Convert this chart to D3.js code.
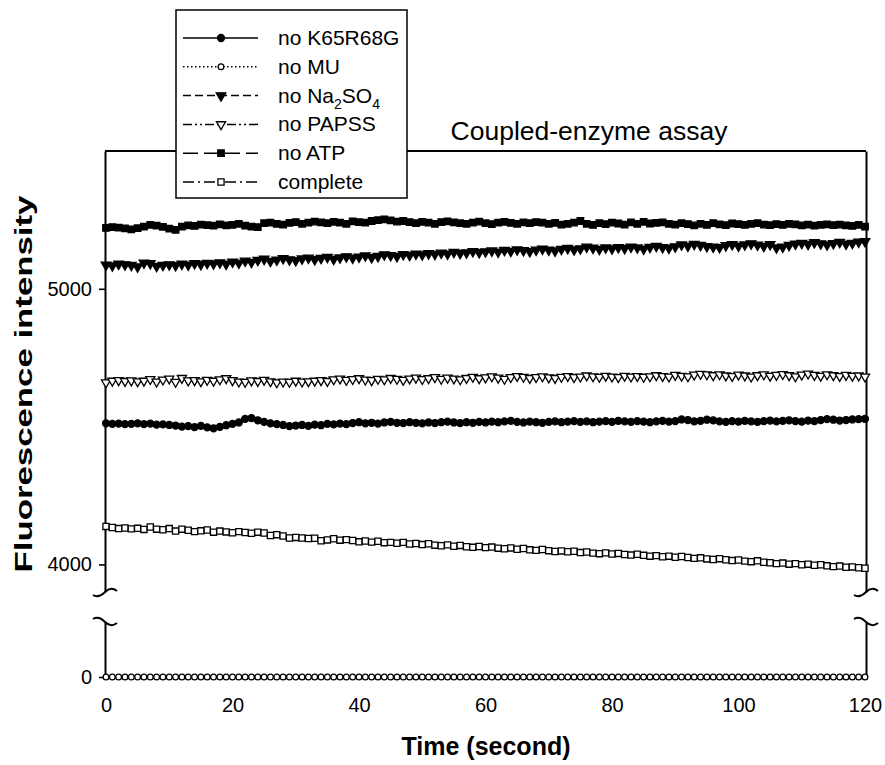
<!DOCTYPE html>
<html>
<head>
<meta charset="utf-8">
<script src="https://cdn.jsdelivr.net/npm/d3@7"></script>
<style>
	body { margin: 0; background: #fff; }
	svg { display: block; }
	text { font-family: "Liberation Sans", Arial, sans-serif; fill: #000; }
</style>
</head>
<body>
<svg id="chart" width="885" height="765"></svg>
<script>

// Data, one reading per second

var seconds = d3.range(0, 121);

var noK65R68G = [
	4512, 4510, 4511, 4509, 4510, 4512, 4509, 4511, 4507, 4508,
	4506, 4504, 4500, 4502, 4498, 4503, 4497, 4494, 4499, 4505,
	4510, 4515, 4528, 4531, 4523, 4517, 4512, 4509, 4506, 4502,
	4504, 4506, 4503, 4507, 4505, 4510, 4508, 4511, 4509, 4513,
	4516, 4512, 4514, 4511, 4515, 4517, 4514, 4513, 4516, 4514,
	4512, 4515, 4513, 4516, 4518, 4515, 4513, 4516, 4514, 4517,
	4515, 4518, 4516, 4519, 4521, 4517, 4515, 4518, 4516, 4514,
	4517, 4519, 4516, 4518, 4520, 4517, 4519, 4516, 4518, 4520,
	4517, 4521, 4519, 4517, 4520, 4518, 4516, 4519, 4521, 4518,
	4520, 4526, 4524, 4519, 4521, 4525, 4523, 4519, 4517, 4520,
	4518, 4521, 4519, 4517, 4520, 4522, 4519, 4521, 4523, 4520,
	4518, 4522, 4520, 4524, 4527, 4525, 4522, 4524, 4526, 4527,
	4528
];

var noMU = [
	0, 0, 0, 0, 0, 0, 0, 0, 0, 0,
	0, 0, 0, 0, 0, 0, 0, 0, 0, 0,
	0, 0, 0, 0, 0, 0, 0, 0, 0, 0,
	0, 0, 0, 0, 0, 0, 0, 0, 0, 0,
	0, 0, 0, 0, 0, 0, 0, 0, 0, 0,
	0, 0, 0, 0, 0, 0, 0, 0, 0, 0,
	0, 0, 0, 0, 0, 0, 0, 0, 0, 0,
	0, 0, 0, 0, 0, 0, 0, 0, 0, 0,
	0, 0, 0, 0, 0, 0, 0, 0, 0, 0,
	0, 0, 0, 0, 0, 0, 0, 0, 0, 0,
	0, 0, 0, 0, 0, 0, 0, 0, 0, 0,
	0, 0, 0, 0, 0, 0, 0, 0, 0, 0,
	0
];

var noNa2SO4 = [
	5087, 5084, 5090, 5088, 5086, 5080, 5094, 5092, 5082, 5086,
	5088, 5085, 5090, 5087, 5092, 5089, 5093, 5091, 5095, 5090,
	5098, 5094, 5101, 5097, 5104, 5108, 5100, 5105, 5110, 5106,
	5103, 5109, 5112, 5107, 5111, 5115, 5108, 5113, 5117, 5112,
	5116, 5120, 5114, 5118, 5124, 5121, 5118, 5125, 5122, 5127,
	5124, 5128, 5126, 5130, 5127, 5133, 5129, 5131, 5136, 5132,
	5135, 5138, 5134, 5140, 5137, 5142, 5139, 5136, 5141, 5145,
	5141, 5138, 5144, 5147, 5142, 5146, 5152, 5148, 5144, 5149,
	5146, 5150, 5147, 5152, 5149, 5145, 5151, 5155, 5150, 5148,
	5153, 5160, 5156, 5162, 5158, 5154, 5152, 5150, 5157, 5161,
	5156, 5160, 5164, 5159, 5155, 5161, 5149, 5152, 5158, 5163,
	5166, 5162, 5168, 5164, 5160, 5165, 5169, 5163, 5166, 5170,
	5172
];

var noPAPSS = [
	4660, 4666, 4668, 4665, 4667, 4664, 4666, 4672, 4663, 4670,
	4674, 4662, 4676, 4667, 4668, 4664, 4669, 4666, 4671, 4675,
	4668, 4663, 4662, 4667, 4665, 4669, 4664, 4660, 4663, 4662,
	4666, 4663, 4664, 4666, 4668, 4665, 4671, 4674, 4669, 4672,
	4675, 4670, 4668, 4673, 4671, 4676, 4673, 4669, 4674, 4677,
	4672, 4675, 4679, 4673, 4677, 4674, 4671, 4676, 4680, 4675,
	4678, 4682, 4677, 4673, 4679, 4683, 4680, 4676, 4679, 4682,
	4678, 4676, 4680, 4683, 4679, 4681, 4685, 4682, 4680, 4684,
	4681, 4679, 4684, 4681, 4683, 4680, 4682, 4686, 4683, 4681,
	4687, 4684, 4682, 4688, 4691, 4689, 4686, 4689, 4685, 4683,
	4688, 4685, 4681, 4686, 4689, 4684, 4687, 4690, 4686, 4682,
	4688, 4692, 4687, 4684, 4689, 4686, 4683, 4687, 4684, 4685,
	4681
];

var noATP = [
	5221, 5224, 5222, 5219, 5216, 5220, 5226, 5232, 5229, 5225,
	5218, 5214, 5226, 5230, 5228, 5233, 5231, 5229, 5234, 5230,
	5232, 5236, 5229, 5226, 5224, 5238, 5240, 5236, 5233, 5239,
	5242, 5236, 5240, 5244, 5241, 5238, 5243, 5240, 5236, 5245,
	5242, 5240, 5246, 5249, 5252, 5248, 5244, 5246, 5242, 5238,
	5243, 5240, 5236, 5242, 5245, 5241, 5238, 5236, 5240, 5244,
	5238, 5235, 5240, 5243, 5239, 5236, 5241, 5238, 5242, 5240,
	5236, 5239, 5233, 5236, 5240, 5246, 5236, 5232, 5238, 5235,
	5240, 5237, 5233, 5241, 5236, 5243, 5237, 5239, 5241, 5236,
	5233, 5238, 5235, 5230, 5236, 5232, 5238, 5234, 5231, 5237,
	5235, 5232, 5236, 5238, 5233, 5231, 5235, 5232, 5236, 5234,
	5230, 5233, 5229, 5232, 5234, 5231, 5233, 5230, 5228, 5232,
	5226
];

var complete = [
	4138, 4134, 4130, 4132, 4129, 4131, 4127, 4136, 4128, 4126,
	4130, 4121, 4128, 4124, 4119, 4122, 4125, 4117, 4121, 4118,
	4115, 4119, 4116, 4113, 4117, 4114, 4105, 4108, 4103, 4096,
	4098, 4096, 4094, 4095, 4086, 4089, 4093, 4088, 4090, 4087,
	4082, 4085, 4081, 4084, 4079, 4080, 4077, 4080, 4074, 4076,
	4072, 4075, 4070, 4068, 4071, 4066, 4069, 4064, 4062, 4065,
	4061, 4063, 4059, 4057, 4060, 4055, 4058, 4053, 4051, 4054,
	4050, 4047, 4049, 4046, 4048, 4043, 4045, 4041, 4039, 4042,
	4038, 4040, 4036, 4034, 4037, 4033, 4030, 4032, 4028, 4030,
	4026, 4029, 4025, 4022, 4024, 4020, 4018, 4021, 4017, 4014,
	4016, 4012, 4010, 4013, 4008, 4006, 4003, 4005, 4001, 4003,
	3999, 4001, 3997, 3999, 3995, 3992, 3994, 3990, 3991, 3988,
	3986
];

var xTicks = [0, 20, 40, 60, 80, 100, 120];
var yTicksUpper = [4000, 5000];
var yTicksLower = [0];

// Series in legend order

var series = [
	{ name: "no K65R68G", values: noK65R68G, marker: "circle",   filled: true,  dash: null,             lower: false },
	{ name: "no MU",      values: noMU,      marker: "circle",   filled: false, dash: "1.5,2.5",        lower: true  },
	{ name: "no Na2SO4",  values: noNa2SO4,  marker: "triangle", filled: true,  dash: "8,4",            lower: false },
	{ name: "no PAPSS",   values: noPAPSS,   marker: "triangle", filled: false, dash: "9,3,2,3,2,3",    lower: false },
	{ name: "no ATP",     values: noATP,     marker: "square",   filled: true,  dash: "15,6",           lower: false },
	{ name: "complete",   values: complete,  marker: "square",   filled: false, dash: "11,4,2,4",       lower: false }
];

var svg = d3.select("#chart");

var x = d3.scaleLinear().domain([0, 120]).range([106, 865]);
var yUpper = d3.scaleLinear().domain([3900, 5500]).range([592, 151]);
var yLower = d3.scaleLinear().domain([0, 200]).range([677, 622]);

var left = 105, right = 866;

var symbolFor = function (s) {
	if (s.marker == "circle") {
		return d3.symbol().type(d3.symbolCircle).size(s.filled ? 38 : 26);
	}
	if (s.marker == "triangle") {
		return d3.symbol().type(d3.symbolTriangle).size(s.filled ? 40 : 36);
	}
	return d3.symbol().type(d3.symbolSquare).size(s.filled ? 42 : 38);
};

var markerTransform = function (s, px, py) {
	// down-pointing triangles, as in the original
	if (s.marker == "triangle") {
		return "translate(" + px + "," + py + ") rotate(180)";
	}
	return "translate(" + px + "," + py + ")";
};

// Frame

svg.append("line")
	.attr("x1", left).attr("x2", right)
	.attr("y1", yUpper(5500)).attr("y2", yUpper(5500))
	.attr("stroke", "#000").attr("stroke-width", 2);

var axisFont = function (g) {
	g.selectAll("text").style("font-size", "20px");
	g.selectAll("path, line").attr("stroke", "#000").attr("stroke-width", 1.6);
};

svg.append("g")
	.attr("transform", "translate(" + left + ",0)")
	.call(d3.axisLeft(yUpper).tickValues(yTicksUpper).tickSize(6).tickSizeOuter(0).tickPadding(7).tickFormat(d3.format("d")))
	.call(axisFont);

svg.append("g")
	.attr("transform", "translate(" + left + ",0)")
	.call(d3.axisLeft(yLower).tickValues(yTicksLower).tickSize(6).tickSizeOuter(0).tickPadding(7).tickFormat(d3.format("d")))
	.call(axisFont);

svg.append("g")
	.attr("transform", "translate(" + right + ",0)")
	.call(d3.axisRight(yUpper).tickValues([]).tickSizeOuter(0))
	.call(axisFont);

svg.append("g")
	.attr("transform", "translate(" + right + ",0)")
	.call(d3.axisRight(yLower).tickValues([]).tickSizeOuter(0))
	.call(axisFont);

svg.selectAll("g path.domain").attr("stroke-width", 2);

// Axis break squiggles

var squiggle = function (cx, cy, up) {
	var s = up ? -1 : 1;
	return "M" + (cx - 12) + "," + (cy + 3 * s) +
		" C" + (cx - 7) + "," + (cy + 6 * s) + " " + (cx - 3) + "," + (cy + 3 * s) + " " + cx + "," + cy +
		" C" + (cx + 3) + "," + (cy - 3 * s) + " " + (cx + 7) + "," + (cy - 5 * s) + " " + (cx + 12) + "," + (cy - 1 * s);
};

[left, right].forEach(function (ax) {
	svg.append("path")
		.attr("d", squiggle(ax, yUpper(3900), false))
		.attr("fill", "none").attr("stroke", "#000").attr("stroke-width", 2);
	svg.append("path")
		.attr("d", squiggle(ax, yLower(200), true))
		.attr("fill", "none").attr("stroke", "#000").attr("stroke-width", 2);
});

// X axis labels (no axis line in the original)

svg.append("g")
	.attr("transform", "translate(0," + yLower(0) + ")")
	.call(d3.axisBottom(x).tickValues(xTicks).tickSize(0).tickPadding(21))
	.call(function (g) {
		g.select(".domain").remove();
		g.selectAll("text").style("font-size", "20px");
	});

// Series

series.forEach(function (s) {

	var y = s.lower ? yLower : yUpper;

	var line = d3.line()
		.x(function (d, i) { return x(seconds[i]); })
		.y(function (d) { return y(d); });

	svg.append("path")
		.datum(s.values)
		.attr("d", line)
		.attr("fill", "none")
		.attr("stroke", "#000")
		.attr("stroke-width", 1.5)
		.attr("stroke-dasharray", s.dash);

	svg.append("g").selectAll("path")
		.data(s.values)
		.enter().append("path")
		.attr("d", symbolFor(s))
		.attr("transform", function (d, i) { return markerTransform(s, x(seconds[i]), y(d)); })
		.attr("fill", s.filled ? "#000" : "#fff")
		.attr("stroke", "#000")
		.attr("stroke-width", 1.3);
});

// Title and axis titles

svg.append("text")
	.attr("x", 589).attr("y", 140)
	.attr("text-anchor", "middle")
	.style("font-size", "26.5px")
	.text("Coupled-enzyme assay");

svg.append("text")
	.attr("x", 486).attr("y", 755)
	.attr("text-anchor", "middle")
	.style("font-size", "25px")
	.style("font-weight", "bold")
	.text("Time (second)");

// the original axis title is drawn stretched along its length
svg.append("text")
	.attr("transform", "translate(32,384) rotate(-90) scale(1.45,1)")
	.attr("text-anchor", "middle")
	.style("font-size", "24px")
	.style("font-weight", "bold")
	.text("Fluorescence intensity");

// Legend

var legend = svg.append("g");

legend.append("rect")
	.attr("x", 176).attr("y", 10)
	.attr("width", 231).attr("height", 188)
	.attr("fill", "#fff")
	.attr("stroke", "#000")
	.attr("stroke-width", 1.5);

var rowY = d3.scaleLinear().domain([0, 5]).range([38, 182]);

series.forEach(function (s, i) {

	var ly = rowY(i);

	legend.append("line")
		.attr("x1", 183).attr("x2", 258)
		.attr("y1", ly).attr("y2", ly)
		.attr("stroke", "#000")
		.attr("stroke-width", 1.5)
		.attr("stroke-dasharray", s.dash);

	legend.append("path")
		.attr("d", symbolFor(s))
		.attr("transform", markerTransform(s, 221, ly))
		.attr("fill", s.filled ? "#000" : "#fff")
		.attr("stroke", "#000")
		.attr("stroke-width", 1.3);

	var label = legend.append("text")
		.attr("x", 278).attr("y", ly + 7)
		.style("font-size", "21px");

	if (s.name == "no Na2SO4") {
		label.append("tspan").text("no Na");
		label.append("tspan").attr("dy", 6).style("font-size", "14px").text("2");
		label.append("tspan").attr("dy", -6).text("SO");
		label.append("tspan").attr("dy", 6).style("font-size", "14px").text("4");
	} else {
		label.text(s.name);
	}
});

</script>
</body>
</html>
